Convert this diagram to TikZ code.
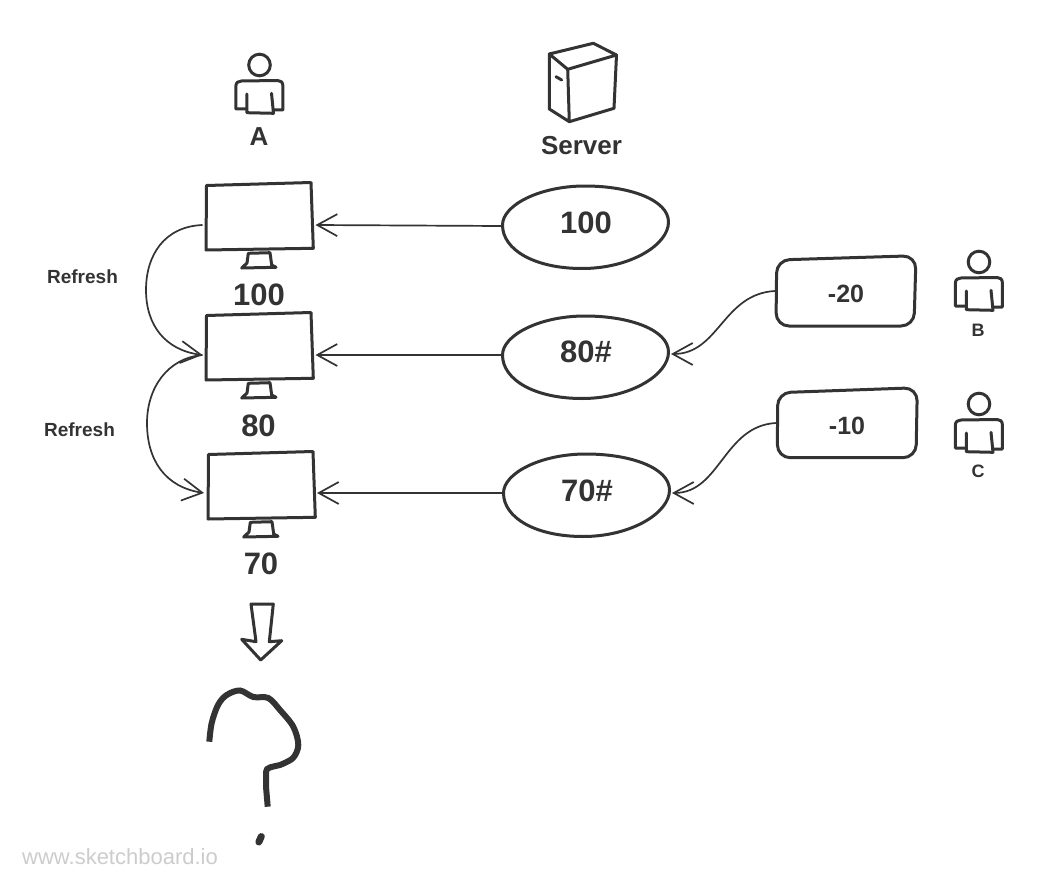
\documentclass[tikz,border=0pt]{standalone}
\usepackage{fontspec}
\setmainfont{Liberation Sans}
\usetikzlibrary{arrows.meta,shapes.geometric}
\definecolor{ink}{HTML}{333333}
\definecolor{mark}{HTML}{CCCCCC}
\tikzset{
  outline/.style={draw=ink,line width=3pt,line join=round,line cap=round},
  link/.style={draw=ink,line width=1.7pt,-{Straight Barb[length=20pt,width=22pt,line width=1.7pt]}},
  screen/.style={inner sep=0pt,outer sep=0pt,minimum width=113pt,minimum height=20pt},
  bignum/.style={font=\bfseries\fontsize{31}{31}\selectfont,text=ink,inner sep=0pt},
  ovalnum/.style={bignum,minimum width=168pt,minimum height=30pt,outer sep=1pt},
  boxnum/.style={font=\bfseries\fontsize{25}{25}\selectfont,text=ink,inner sep=0pt,minimum width=142pt,minimum height=20pt},
  caption/.style={font=\bfseries\fontsize{26}{26}\selectfont,text=ink,inner sep=0pt},
  small/.style={font=\bfseries\fontsize{19}{19}\selectfont,text=ink,inner sep=0pt},
  tiny/.style={font=\bfseries\fontsize{18}{18}\selectfont,text=ink,inner sep=0pt},
  person/.pic={
    \draw[outline] (0,0) circle (10.8);
    \draw[outline] (-12.6,44) -- (-23.6,44) -- (-23.6,21) .. controls (-23.6,17.5) and (-21,16) .. (-18,16) -- (18,15.5) .. controls (21,15.5) and (23.4,17) .. (23.4,21) -- (23.4,45) -- (13.7,45);
    \draw[outline] (-12.6,29) -- (-12.6,47.7) -- (14,48.3) -- (12,28.3);
  },
  monitor/.pic={
    \draw[outline] (-53.5,-39.5) -- (51,-42.5) -- (53.3,23.3) -- (-54,25) -- cycle;
    \draw[outline] (-11.7,28.3) -- (10,27.7) -- (11.7,40) -- (16,42.3) -- (-18.3,43) -- (-13,38) -- cycle;
  },
  blob/.pic={
    \draw[outline] (-82.5,0) .. controls (-82.5,-20) and (-45,-39) .. (0,-39)
      .. controls (45,-39) and (83.5,-25) .. (83.5,-3)
      .. controls (83.5,20) and (45,43.5) .. (-3,43.5)
      .. controls (-50,43.5) and (-82.5,25) .. cycle;
  }
}
\begin{document}
\begin{tikzpicture}[x=1pt,y=-1pt]
\useasboundingbox (0,0) rectangle (1049,888);
% users
\pic at (259.5,65) {person};
\pic at (979,262) {person};
\pic at (979,404) {person};
\node[caption] (la) at (259,136.2) {A};
\node[tiny] (lb) at (978,330.2) {B};
\node[tiny] (lc) at (978,471.2) {C};
% server
\draw[outline] (549.3,54) -- (593.3,43.3) -- (616.5,55) -- (567.7,69.3) -- cycle;
\draw[outline] (549.3,54) -- (549.3,109) -- (569.3,121.7) -- (567.7,69.3);
\draw[outline] (569.3,121.7) -- (614,108.3) -- (616.5,55);
\draw[outline] (556,76.7) -- (561.7,80);
\node[caption] (ls) at (581.5,145.5) {Server};
% monitors
\node[screen] (m1) at (259,225) {};
\node[screen] (m2) at (259,355) {};
\node[screen] (m3) at (260.5,493) {};
\pic at (260,225) {monitor};
\pic at (260,355) {monitor};
\pic at (262,494) {monitor};
\node[bignum] (n1) at (259,295) {100};
\node[bignum] (n2) at (258.5,426) {80};
\node[bignum] (n3) at (261,564) {70};
% ovals
\pic at (585,225) {blob};
\pic at (585,355) {blob};
\pic at (586,493) {blob};
\node[ovalnum] (e1) at (586,223) {100};
\node[ovalnum] (e2) at (586,352) {80\#};
\node[ovalnum] (e3) at (587,491) {70\#};
% boxes
\draw[outline,rounded corners=13pt] (776.7,260) -- (916,255.7) -- (914,326) -- (776,326) -- cycle;
\draw[outline,rounded corners=13pt] (777.7,392.7) -- (917.3,387.7) -- (916,457.7) -- (777.3,457.7) -- cycle;
\node[boxnum] (b1) at (846,294) {-20};
\node[boxnum] (b2) at (847,426) {-10};
% connectors
\draw[link] ([yshift=-3pt]e1.west) -- (m1.east);
\draw[link] ([yshift=-3pt]e2.west) -- (m2.east);
\draw[link] ([yshift=-2pt]e3.west) -- (m3.east);
\draw[link] ([yshift=3pt]b1.west) .. controls +(-52,3) and +(48,0) .. ([yshift=-2pt]e2.east);
\draw[link] ([yshift=3pt]b2.west) .. controls +(-52,3) and +(48,0) .. ([yshift=-2pt]e3.east);
\draw[link] (m1.west) .. controls +(-38,1.5) and (146,255) .. (146,290) .. controls (146,325) and (165,350) .. (m2.west);
\draw[link] (m2.west) .. controls +(-35,3) and (147,388) .. (147,423) .. controls (147,460) and (165,487) .. (m3.west);
\node[small] (r1) at (82.5,276.3) {Refresh};
\node[small] (r2) at (79.5,429.3) {Refresh};
% down arrow
\draw[outline] (251,604) -- (273.3,604) -- (269.3,641.7) -- (281.7,640.7) -- (260.7,660) -- (241.7,639.3) -- (256,641.7) -- cycle;
% question mark
\draw[draw=ink,line width=6pt] plot[smooth,tension=0.55] coordinates {(209.3,741.7) (211.7,723) (218,705) (226.7,695) (240,690.5) (253.3,697) (268.3,698) (280,710) (293.3,726.7) (298.3,745) (293,758) (280,765)} .. controls (272,767) and (266,767) .. (266,772) -- (266,786.7) -- (267.7,806.7);
\draw[draw=ink,line width=7pt,line cap=round] (261.3,836.5) -- (258.8,842);
\node[font=\fontsize{22}{22}\selectfont,text=mark,inner sep=0pt,anchor=west] (wm) at (22,857) {www.sketchboard.io};
\end{tikzpicture}
\end{document}
